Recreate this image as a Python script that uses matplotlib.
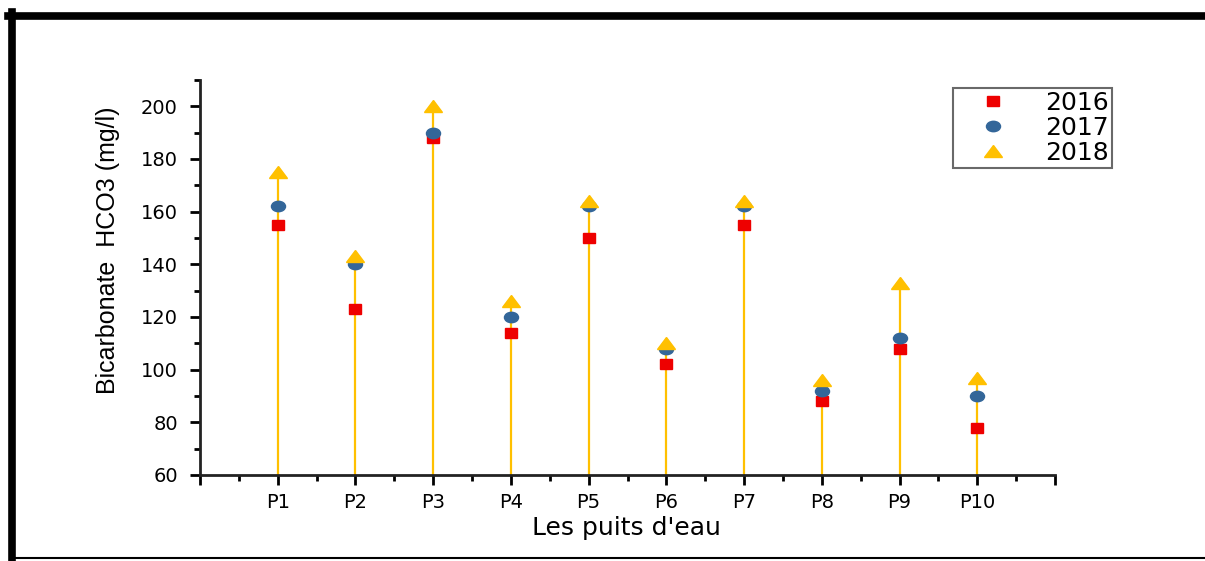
import matplotlib
matplotlib.use("Agg")
import matplotlib.pyplot as plt
from matplotlib.lines import Line2D
from matplotlib.markers import MarkerStyle
from matplotlib.transforms import Affine2D
from matplotlib.ticker import MultipleLocator, FixedLocator

plt.rcParams['font.family'] = ['DejaVu Sans']

puits = ['P1', 'P2', 'P3', 'P4', 'P5', 'P6', 'P7', 'P8', 'P9', 'P10']
hco3_2016 = [155, 123, 188, 114, 150, 102, 155, 88, 108, 78]
hco3_2017 = [162, 140, 190, 120, 162, 108, 162, 92, 112, 90]
hco3_2018 = [175, 143, 200, 126, 164, 110, 164, 96, 133, 97]

red = '#EE0000'
blue = '#336699'
yellow = '#FFC000'

x = list(range(1, len(puits) + 1))

fig = plt.figure(figsize=(12.05, 5.61), dpi=100)
ax = fig.add_axes([200/1205, 1 - 475/561, 855/1205, 395/561])

# stems for 2018
ax.vlines(x, 60, hco3_2018, color=yellow, linewidth=1.6, zorder=1)

# markers, stretched sideways like the original picture
sq = MarkerStyle('s', transform=Affine2D().scale(1.3, 1.0))
ci = MarkerStyle('o', transform=Affine2D().scale(1.35, 1.0))
tr = MarkerStyle('^', transform=Affine2D().scale(1.55, 1.0))
ax.plot(x, hco3_2016, linestyle='none', marker=sq, markersize=7, color=red, label='2016', zorder=3)
ax.plot(x, hco3_2017, linestyle='none', marker=ci, markersize=7.5, color=blue, label='2017', zorder=4)
ax.plot(x, hco3_2018, linestyle='none', marker=tr, markersize=8.5, color=yellow, label='2018', zorder=5)

ax.set_xlim(0, 11)
ax.set_ylim(60, 210)
ax.xaxis.set_major_locator(FixedLocator(list(range(0, 12))))
ax.set_xticklabels([''] + puits + [''])
ax.xaxis.set_minor_locator(MultipleLocator(0.5))
ax.yaxis.set_major_locator(MultipleLocator(20))
ax.yaxis.set_minor_locator(MultipleLocator(10))
ax.set_yticks([60, 80, 100, 120, 140, 160, 180, 200])

for s in ['top', 'right']:
    ax.spines[s].set_visible(False)
for s in ['left', 'bottom']:
    ax.spines[s].set_linewidth(2)
    ax.spines[s].set_color('#222222')

ax.tick_params(which='major', direction='out', length=7, width=2, labelsize=14)
ax.tick_params(axis='y', which='major', pad=9)
ax.tick_params(axis='x', which='major', pad=6)
ax.tick_params(which='minor', direction='out', length=4, width=2)

fig.text(108/1205, 1 - 250/561, 'Bicarbonate  HCO3 (mg/l)', rotation=90,
         ha='center', va='center', fontsize=18, family='Liberation Sans')
fig.text(626/1205, 1 - 528/561, "Les puits d'eau", ha='center', va='center', fontsize=18)

leg = fig.legend(loc='upper left', bbox_to_anchor=(953/1205, 1 - 88/561), borderaxespad=0,
                 fontsize=18, frameon=True, fancybox=False, handletextpad=0.6,
                 borderpad=0.1, labelspacing=0.05, handlelength=3.0)
leg.get_frame().set_edgecolor('#444444')
leg.get_frame().set_linewidth(1.5)

# picture border
fig.add_artist(Line2D([8/1205, 1], [1 - 15.5/561, 1 - 15.5/561], color='black', linewidth=5.5))
fig.add_artist(Line2D([12/1205, 12/1205], [0, 1 - 12/561], color='black', linewidth=5.5))
fig.add_artist(Line2D([12/1205, 1], [1 - 558/561, 1 - 558/561], color='black', linewidth=1.5))

fig.savefig('out.png', dpi=100)
